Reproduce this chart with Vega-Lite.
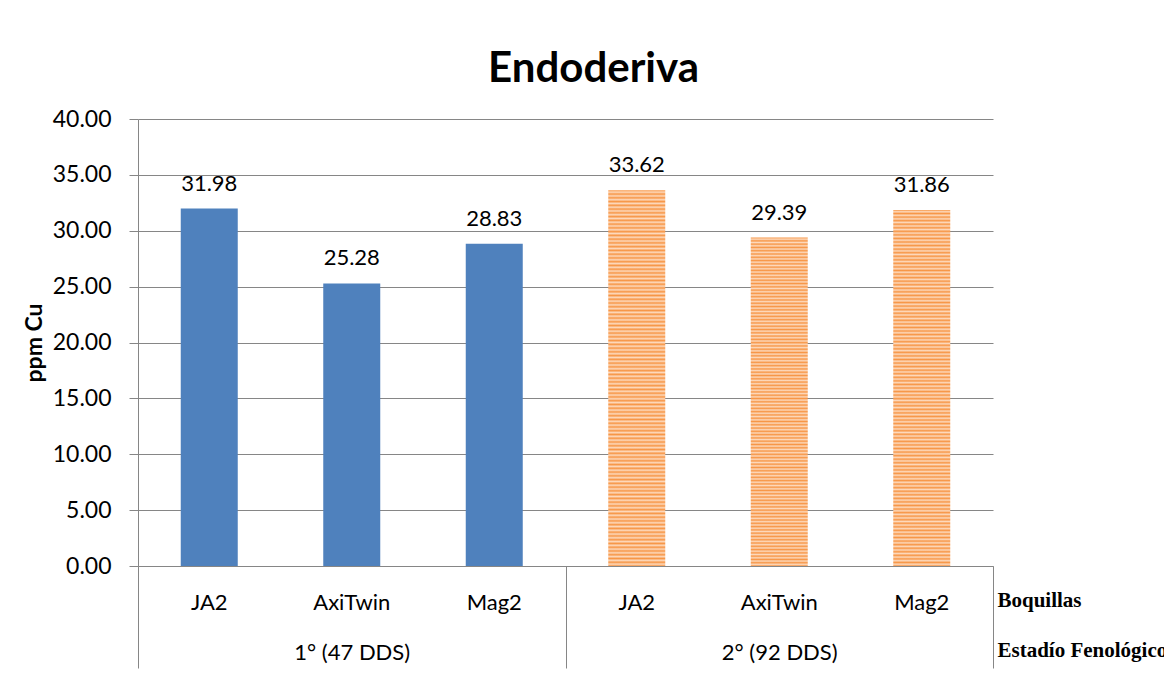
{
  "$schema": "https://vega.github.io/schema/vega-lite/v6.json",
  "width": 855,
  "height": 447,
  "autosize": {"type": "none"},
  "padding": {"left": 138, "top": 119, "right": 171, "bottom": 126},
  "background": "white",
  "config": {"font": "Lato", "view": {"stroke": null}},
  "title": {"text": "Endoderiva", "font": "Lato", "fontSize": 42, "fontWeight": "bold", "color": "black", "anchor": "middle", "frame": "group", "dx": 28, "dy": 42, "offset": 26, "baseline": "alphabetic"},
  "data": {"values": [
    {"stage": "1° (47 DDS)", "boquilla": "JA2", "key": "1|JA2", "value": 31.98},
    {"stage": "1° (47 DDS)", "boquilla": "AxiTwin", "key": "1|AxiTwin", "value": 25.28},
    {"stage": "1° (47 DDS)", "boquilla": "Mag2", "key": "1|Mag2", "value": 28.83},
    {"stage": "2° (92 DDS)", "boquilla": "JA2", "key": "2|JA2", "value": 33.62},
    {"stage": "2° (92 DDS)", "boquilla": "AxiTwin", "key": "2|AxiTwin", "value": 29.39},
    {"stage": "2° (92 DDS)", "boquilla": "Mag2", "key": "2|Mag2", "value": 31.86}
  ]},
  "layer": [
    {
      "encoding": {
        "x": {"field": "key", "type": "nominal", "sort": ["1|JA2", "1|AxiTwin", "1|Mag2", "2|JA2", "2|AxiTwin", "2|Mag2"],
          "scale": {"paddingInner": 0.6, "paddingOuter": 0.3},
          "axis": {"title": "Boquillas", "labelExpr": "split(datum.label,'|')[1]", "labelAngle": 0, "ticks": false, "tickSize": 0, "domain": true, "domainColor": "#868686", "domainWidth": 1, "grid": false, "labelBaseline": "middle", "labelPadding": 36, "labelFont": "Lato", "labelFontSize": 22, "labelColor": "black", "titleX": 859, "titleY": 34, "titleAlign": "left", "titleBaseline": "middle", "titleAngle": 0, "titleFont": "Liberation Serif", "titleFontSize": 21, "titleFontWeight": "bold", "titleColor": "black"}},
        "y": {"field": "value", "type": "quantitative", "scale": {"domain": [0, 40]},
          "axis": {"title": "ppm Cu", "values": [0, 5, 10, 15, 20, 25, 30, 35, 40], "format": ".2f", "grid": true, "gridColor": "#868686", "gridWidth": 1, "domainColor": "#868686", "tickColor": "#868686", "tickSize": 9, "labelPadding": 18, "labelFont": "Lato", "labelFontSize": 23, "labelColor": "black", "titleFont": "Lato", "titleFontSize": 23, "titleFontWeight": "bold", "titleColor": "black", "titlePadding": 6}}
      },
      "layer": [
        {
          "transform": [{"filter": "datum.stage == '1° (47 DDS)'"}],
          "mark": {"type": "bar", "color": "#4F81BD"}
        },
        {
          "transform": [{"filter": "datum.stage == '2° (92 DDS)'"}],
          "mark": {"type": "bar", "color": {"gradient": "linear", "x1": 0, "y1": 0, "x2": 0, "y2": 1, "stops": [
            {"offset": 0, "color": "#f79646"}, {"offset": 0.005, "color": "#fdd9bc"}, {"offset": 0.01, "color": "#f79646"}, {"offset": 0.015, "color": "#fdd9bc"}, {"offset": 0.02, "color": "#f79646"}, {"offset": 0.025, "color": "#fdd9bc"}, {"offset": 0.03, "color": "#f79646"}, {"offset": 0.035, "color": "#fdd9bc"}, {"offset": 0.04, "color": "#f79646"}, {"offset": 0.045, "color": "#fdd9bc"},
            {"offset": 0.05, "color": "#f79646"}, {"offset": 0.055, "color": "#fdd9bc"}, {"offset": 0.06, "color": "#f79646"}, {"offset": 0.065, "color": "#fdd9bc"}, {"offset": 0.07, "color": "#f79646"}, {"offset": 0.075, "color": "#fdd9bc"}, {"offset": 0.08, "color": "#f79646"}, {"offset": 0.085, "color": "#fdd9bc"}, {"offset": 0.09, "color": "#f79646"}, {"offset": 0.095, "color": "#fdd9bc"},
            {"offset": 0.1, "color": "#f79646"}, {"offset": 0.105, "color": "#fdd9bc"}, {"offset": 0.11, "color": "#f79646"}, {"offset": 0.115, "color": "#fdd9bc"}, {"offset": 0.12, "color": "#f79646"}, {"offset": 0.125, "color": "#fdd9bc"}, {"offset": 0.13, "color": "#f79646"}, {"offset": 0.135, "color": "#fdd9bc"}, {"offset": 0.14, "color": "#f79646"}, {"offset": 0.145, "color": "#fdd9bc"},
            {"offset": 0.15, "color": "#f79646"}, {"offset": 0.155, "color": "#fdd9bc"}, {"offset": 0.16, "color": "#f79646"}, {"offset": 0.165, "color": "#fdd9bc"}, {"offset": 0.17, "color": "#f79646"}, {"offset": 0.175, "color": "#fdd9bc"}, {"offset": 0.18, "color": "#f79646"}, {"offset": 0.185, "color": "#fdd9bc"}, {"offset": 0.19, "color": "#f79646"}, {"offset": 0.195, "color": "#fdd9bc"},
            {"offset": 0.2, "color": "#f79646"}, {"offset": 0.205, "color": "#fdd9bc"}, {"offset": 0.21, "color": "#f79646"}, {"offset": 0.215, "color": "#fdd9bc"}, {"offset": 0.22, "color": "#f79646"}, {"offset": 0.225, "color": "#fdd9bc"}, {"offset": 0.23, "color": "#f79646"}, {"offset": 0.235, "color": "#fdd9bc"}, {"offset": 0.24, "color": "#f79646"}, {"offset": 0.245, "color": "#fdd9bc"},
            {"offset": 0.25, "color": "#f79646"}, {"offset": 0.255, "color": "#fdd9bc"}, {"offset": 0.26, "color": "#f79646"}, {"offset": 0.265, "color": "#fdd9bc"}, {"offset": 0.27, "color": "#f79646"}, {"offset": 0.275, "color": "#fdd9bc"}, {"offset": 0.28, "color": "#f79646"}, {"offset": 0.285, "color": "#fdd9bc"}, {"offset": 0.29, "color": "#f79646"}, {"offset": 0.295, "color": "#fdd9bc"},
            {"offset": 0.3, "color": "#f79646"}, {"offset": 0.305, "color": "#fdd9bc"}, {"offset": 0.31, "color": "#f79646"}, {"offset": 0.315, "color": "#fdd9bc"}, {"offset": 0.32, "color": "#f79646"}, {"offset": 0.325, "color": "#fdd9bc"}, {"offset": 0.33, "color": "#f79646"}, {"offset": 0.335, "color": "#fdd9bc"}, {"offset": 0.34, "color": "#f79646"}, {"offset": 0.345, "color": "#fdd9bc"},
            {"offset": 0.35, "color": "#f79646"}, {"offset": 0.355, "color": "#fdd9bc"}, {"offset": 0.36, "color": "#f79646"}, {"offset": 0.365, "color": "#fdd9bc"}, {"offset": 0.37, "color": "#f79646"}, {"offset": 0.375, "color": "#fdd9bc"}, {"offset": 0.38, "color": "#f79646"}, {"offset": 0.385, "color": "#fdd9bc"}, {"offset": 0.39, "color": "#f79646"}, {"offset": 0.395, "color": "#fdd9bc"},
            {"offset": 0.4, "color": "#f79646"}, {"offset": 0.405, "color": "#fdd9bc"}, {"offset": 0.41, "color": "#f79646"}, {"offset": 0.415, "color": "#fdd9bc"}, {"offset": 0.42, "color": "#f79646"}, {"offset": 0.425, "color": "#fdd9bc"}, {"offset": 0.43, "color": "#f79646"}, {"offset": 0.435, "color": "#fdd9bc"}, {"offset": 0.44, "color": "#f79646"}, {"offset": 0.445, "color": "#fdd9bc"},
            {"offset": 0.45, "color": "#f79646"}, {"offset": 0.455, "color": "#fdd9bc"}, {"offset": 0.46, "color": "#f79646"}, {"offset": 0.465, "color": "#fdd9bc"}, {"offset": 0.47, "color": "#f79646"}, {"offset": 0.475, "color": "#fdd9bc"}, {"offset": 0.48, "color": "#f79646"}, {"offset": 0.485, "color": "#fdd9bc"}, {"offset": 0.49, "color": "#f79646"}, {"offset": 0.495, "color": "#fdd9bc"},
            {"offset": 0.5, "color": "#f79646"}, {"offset": 0.505, "color": "#fdd9bc"}, {"offset": 0.51, "color": "#f79646"}, {"offset": 0.515, "color": "#fdd9bc"}, {"offset": 0.52, "color": "#f79646"}, {"offset": 0.525, "color": "#fdd9bc"}, {"offset": 0.53, "color": "#f79646"}, {"offset": 0.535, "color": "#fdd9bc"}, {"offset": 0.54, "color": "#f79646"}, {"offset": 0.545, "color": "#fdd9bc"},
            {"offset": 0.55, "color": "#f79646"}, {"offset": 0.555, "color": "#fdd9bc"}, {"offset": 0.56, "color": "#f79646"}, {"offset": 0.565, "color": "#fdd9bc"}, {"offset": 0.57, "color": "#f79646"}, {"offset": 0.575, "color": "#fdd9bc"}, {"offset": 0.58, "color": "#f79646"}, {"offset": 0.585, "color": "#fdd9bc"}, {"offset": 0.59, "color": "#f79646"}, {"offset": 0.595, "color": "#fdd9bc"},
            {"offset": 0.6, "color": "#f79646"}, {"offset": 0.605, "color": "#fdd9bc"}, {"offset": 0.61, "color": "#f79646"}, {"offset": 0.615, "color": "#fdd9bc"}, {"offset": 0.62, "color": "#f79646"}, {"offset": 0.625, "color": "#fdd9bc"}, {"offset": 0.63, "color": "#f79646"}, {"offset": 0.635, "color": "#fdd9bc"}, {"offset": 0.64, "color": "#f79646"}, {"offset": 0.645, "color": "#fdd9bc"},
            {"offset": 0.65, "color": "#f79646"}, {"offset": 0.655, "color": "#fdd9bc"}, {"offset": 0.66, "color": "#f79646"}, {"offset": 0.665, "color": "#fdd9bc"}, {"offset": 0.67, "color": "#f79646"}, {"offset": 0.675, "color": "#fdd9bc"}, {"offset": 0.68, "color": "#f79646"}, {"offset": 0.685, "color": "#fdd9bc"}, {"offset": 0.69, "color": "#f79646"}, {"offset": 0.695, "color": "#fdd9bc"},
            {"offset": 0.7, "color": "#f79646"}, {"offset": 0.705, "color": "#fdd9bc"}, {"offset": 0.71, "color": "#f79646"}, {"offset": 0.715, "color": "#fdd9bc"}, {"offset": 0.72, "color": "#f79646"}, {"offset": 0.725, "color": "#fdd9bc"}, {"offset": 0.73, "color": "#f79646"}, {"offset": 0.735, "color": "#fdd9bc"}, {"offset": 0.74, "color": "#f79646"}, {"offset": 0.745, "color": "#fdd9bc"},
            {"offset": 0.75, "color": "#f79646"}, {"offset": 0.755, "color": "#fdd9bc"}, {"offset": 0.76, "color": "#f79646"}, {"offset": 0.765, "color": "#fdd9bc"}, {"offset": 0.77, "color": "#f79646"}, {"offset": 0.775, "color": "#fdd9bc"}, {"offset": 0.78, "color": "#f79646"}, {"offset": 0.785, "color": "#fdd9bc"}, {"offset": 0.79, "color": "#f79646"}, {"offset": 0.795, "color": "#fdd9bc"},
            {"offset": 0.8, "color": "#f79646"}, {"offset": 0.805, "color": "#fdd9bc"}, {"offset": 0.81, "color": "#f79646"}, {"offset": 0.815, "color": "#fdd9bc"}, {"offset": 0.82, "color": "#f79646"}, {"offset": 0.825, "color": "#fdd9bc"}, {"offset": 0.83, "color": "#f79646"}, {"offset": 0.835, "color": "#fdd9bc"}, {"offset": 0.84, "color": "#f79646"}, {"offset": 0.845, "color": "#fdd9bc"},
            {"offset": 0.85, "color": "#f79646"}, {"offset": 0.855, "color": "#fdd9bc"}, {"offset": 0.86, "color": "#f79646"}, {"offset": 0.865, "color": "#fdd9bc"}, {"offset": 0.87, "color": "#f79646"}, {"offset": 0.875, "color": "#fdd9bc"}, {"offset": 0.88, "color": "#f79646"}, {"offset": 0.885, "color": "#fdd9bc"}, {"offset": 0.89, "color": "#f79646"}, {"offset": 0.895, "color": "#fdd9bc"},
            {"offset": 0.9, "color": "#f79646"}, {"offset": 0.905, "color": "#fdd9bc"}, {"offset": 0.91, "color": "#f79646"}, {"offset": 0.915, "color": "#fdd9bc"}, {"offset": 0.92, "color": "#f79646"}, {"offset": 0.925, "color": "#fdd9bc"}, {"offset": 0.93, "color": "#f79646"}, {"offset": 0.935, "color": "#fdd9bc"}, {"offset": 0.94, "color": "#f79646"}, {"offset": 0.945, "color": "#fdd9bc"},
            {"offset": 0.95, "color": "#f79646"}, {"offset": 0.955, "color": "#fdd9bc"}, {"offset": 0.96, "color": "#f79646"}, {"offset": 0.965, "color": "#fdd9bc"}, {"offset": 0.97, "color": "#f79646"}, {"offset": 0.975, "color": "#fdd9bc"}, {"offset": 0.98, "color": "#f79646"}, {"offset": 0.985, "color": "#fdd9bc"}, {"offset": 0.99, "color": "#f79646"}, {"offset": 0.995, "color": "#fdd9bc"},
            {"offset": 1, "color": "#f79646"}
          ]}}
        },
        {
          "mark": {"type": "text", "dy": -18, "baseline": "alphabetic", "font": "Lato", "fontSize": 22, "color": "black"},
          "encoding": {"text": {"field": "value", "type": "quantitative", "format": ".2f"}}
        }
      ]
    },
    {
      "mark": {"type": "point", "opacity": 0},
      "encoding": {
        "x": {"field": "stage", "type": "nominal", "sort": ["1° (47 DDS)", "2° (92 DDS)"],
          "scale": {"type": "band", "paddingInner": 0, "paddingOuter": 0},
          "axis": {"orient": "bottom", "title": "Estadío Fenológico", "tickBand": "extent", "ticks": true, "tickSize": 102, "tickColor": "#868686", "tickWidth": 1, "domain": false, "grid": false, "labelAngle": 0, "labelBaseline": "middle", "labelPadding": -16, "labelFont": "Lato", "labelFontSize": 22, "labelColor": "black", "titleX": 859, "titleY": 84, "titleAlign": "left", "titleBaseline": "middle", "titleAngle": 0, "titleFont": "Liberation Serif", "titleFontSize": 21, "titleFontWeight": "bold", "titleColor": "black"}}
      }
    }
  ],
  "resolve": {"scale": {"x": "independent"}, "axis": {"x": "independent"}}
}
